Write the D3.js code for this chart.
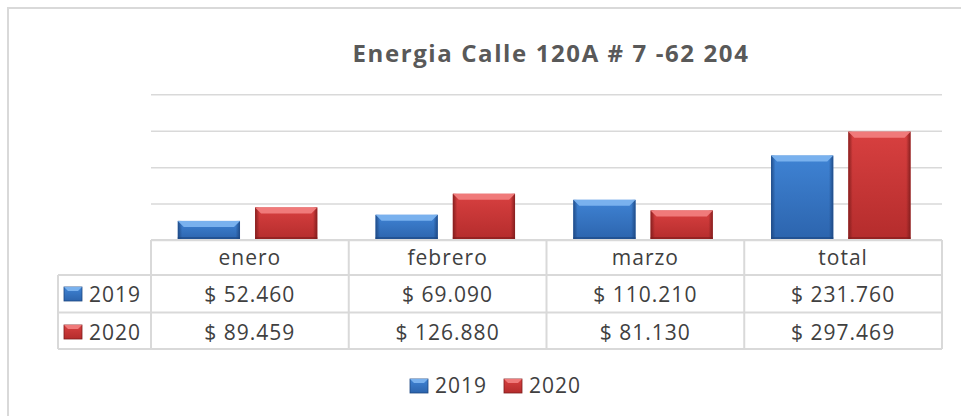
<!DOCTYPE html>
<html>
<head>
<meta charset="utf-8">
<script src="https://cdn.jsdelivr.net/npm/d3@7"></script>
<style>
  body { margin: 0; background: #fff; }
  text { font-family: "Open Sans", sans-serif; fill: #404040; }
</style>
</head>
<body>
<div id="chart-area"></div>
<script>
// data
const categories = ["enero", "febrero", "marzo", "total"]
const seriesNames = ["2019", "2020"]
const values2019 = [52460, 69090, 110210, 231760]
const values2020 = [89459, 126880, 81130, 297469]
const yTicks = [0, 100000, 200000, 300000, 400000]
const title = "Energia Calle 120A # 7 -62 204"

const W = 961, H = 416
const PLOT = { LEFT: 151, RIGHT: 942, TOP: 94.3, BOTTOM: 240 }
const ROWS = [240, 275, 312.5, 349]   // table row edges
const LABEL_LEFT = 58

const colors = {
  "2019": { top: "#79b1ee", body1: "#3f83d4", body2: "#2c64ad", edge: "#1d4680" },
  "2020": { top: "#f07a7a", body1: "#d84040", body2: "#b42c2c", edge: "#7e1c1c" }
}

const rows = seriesNames.map(function(s, i) {
  const vals = i === 0 ? values2019 : values2020
  return { name: s, values: categories.map(function(c, j) { return { cat: c, series: s, value: vals[j] } }) }
})

const locale = d3.formatLocale({ decimal: ",", thousands: ".", grouping: [3], currency: ["$ ", ""] })
const fmt = locale.format("$,.0f")

const svg = d3.select("#chart-area").append("svg")
  .attr("width", W)
  .attr("height", H)

// gradients
const defs = svg.append("defs")
seriesNames.forEach(function(s) {
  const c = colors[s]
  const gv = defs.append("linearGradient").attr("id", "body" + s)
    .attr("x1", 0).attr("y1", 0).attr("x2", 0).attr("y2", 1)
  gv.append("stop").attr("offset", "0%").attr("stop-color", c.body1)
  gv.append("stop").attr("offset", "100%").attr("stop-color", c.body2)
  const gh = defs.append("linearGradient").attr("id", "side" + s)
    .attr("x1", 0).attr("y1", 0).attr("x2", 1).attr("y2", 0)
  gh.append("stop").attr("offset", "0%").attr("stop-color", c.edge).attr("stop-opacity", 0.9)
  gh.append("stop").attr("offset", "7%").attr("stop-color", c.edge).attr("stop-opacity", 0)
  gh.append("stop").attr("offset", "93%").attr("stop-color", c.edge).attr("stop-opacity", 0)
  gh.append("stop").attr("offset", "100%").attr("stop-color", c.edge).attr("stop-opacity", 0.9)
})

// outer border
svg.append("rect")
  .attr("x", 8).attr("y", 8)
  .attr("width", W + 20).attr("height", H + 20)
  .attr("fill", "none")
  .attr("stroke", "#d9d9d9")
  .attr("stroke-width", 2)

// title
svg.append("text")
  .attr("x", 551)
  .attr("y", 62)
  .attr("text-anchor", "middle")
  .attr("font-size", "24px")
  .attr("font-weight", "bold")
  .attr("letter-spacing", "1.6px")
  .style("fill", "#595959")
  .text(title)

// scales
const x = d3.scaleBand()
  .domain(categories)
  .range([PLOT.LEFT, PLOT.RIGHT])
  .padding(0)

const xs = d3.scaleBand()
  .domain(seriesNames)
  .range([0, x.bandwidth()])
  .paddingInner(0.195)
  .paddingOuter(0.377)
  .align(0.46)

const y = d3.scaleLinear()
  .domain([0, 400000])
  .range([PLOT.BOTTOM, PLOT.TOP])

// gridlines
const grid = svg.append("g")
  .attr("transform", "translate(" + PLOT.LEFT + ",0)")
  .call(d3.axisLeft(y).tickValues(yTicks).tickSize(-(PLOT.RIGHT - PLOT.LEFT)).tickFormat(""))
grid.select(".domain").remove()
grid.selectAll("line").attr("stroke", "#d9d9d9").attr("stroke-width", 1.5)

// bars
const groups = svg.selectAll(".series")
  .data(rows)
  .enter().append("g")
  .attr("class", "series")

const bars = groups.selectAll(".bar")
  .data(function(d) { return d.values })
  .enter().append("g")
  .attr("class", "bar")

bars.append("rect")
  .attr("x", function(d) { return x(d.cat) + xs(d.series) })
  .attr("y", function(d) { return y(d.value) })
  .attr("width", xs.bandwidth())
  .attr("height", function(d) { return y(0) - y(d.value) })
  .attr("fill", function(d) { return "url(#body" + d.series + ")" })

bars.append("rect")
  .attr("x", function(d) { return x(d.cat) + xs(d.series) })
  .attr("y", function(d) { return y(d.value) })
  .attr("width", xs.bandwidth())
  .attr("height", function(d) { return y(0) - y(d.value) })
  .attr("fill", function(d) { return "url(#side" + d.series + ")" })

// top bevel
const bev = 6
bars.append("path")
  .attr("d", function(d) {
    const x0 = x(d.cat) + xs(d.series), x1 = x0 + xs.bandwidth(), y0 = y(d.value)
    return "M" + x0 + "," + y0 + "L" + x1 + "," + y0 + "L" + (x1 - bev) + "," + (y0 + bev) +
      "L" + (x0 + bev) + "," + (y0 + bev) + "Z"
  })
  .attr("fill", function(d) { return colors[d.series].top })

// bottom shade
bars.append("rect")
  .attr("x", function(d) { return x(d.cat) + xs(d.series) })
  .attr("y", y(0) - 3)
  .attr("width", xs.bandwidth())
  .attr("height", 3)
  .attr("fill", function(d) { return colors[d.series].edge })
  .attr("opacity", 0.6)

// data table
const table = svg.append("g").attr("class", "table")
const lineColor = "#d9d9d9"

// horizontal lines
ROWS.forEach(function(ry, i) {
  table.append("line")
    .attr("x1", i === 0 ? PLOT.LEFT : LABEL_LEFT)
    .attr("x2", PLOT.RIGHT)
    .attr("y1", ry).attr("y2", ry)
    .attr("stroke", lineColor).attr("stroke-width", 2)
})
// vertical lines
table.append("line")
  .attr("x1", LABEL_LEFT).attr("x2", LABEL_LEFT)
  .attr("y1", ROWS[1]).attr("y2", ROWS[3])
  .attr("stroke", lineColor).attr("stroke-width", 2)
categories.concat([null]).forEach(function(c) {
  const cx = c === null ? PLOT.RIGHT : x(c)
  table.append("line")
    .attr("x1", cx).attr("x2", cx)
    .attr("y1", ROWS[0]).attr("y2", ROWS[3])
    .attr("stroke", lineColor).attr("stroke-width", 2)
})

// header labels
table.selectAll(".cat-label")
  .data(categories)
  .enter().append("text")
  .attr("class", "cat-label")
  .attr("x", function(d) { return x(d) + x.bandwidth() / 2 })
  .attr("y", 265)
  .attr("text-anchor", "middle")
  .attr("font-size", "21px")
  .attr("letter-spacing", "1px")
  .text(function(d) { return d })

const valueBaselines = [302, 340]

function marker(sel, s, mx, my) {
  sel.append("rect")
    .attr("x", mx).attr("y", my).attr("width", 18).attr("height", 14)
    .attr("fill", "url(#body" + s + ")")
    .attr("stroke", colors[s].edge).attr("stroke-width", 0.8)
  sel.append("path")
    .attr("d", "M" + mx + "," + my + "L" + (mx + 18) + "," + my + "L" + (mx + 14) + "," + (my + 4) + "L" + (mx + 4) + "," + (my + 4) + "Z")
    .attr("fill", colors[s].top)
}

rows.forEach(function(r, i) {
  const g = table.append("g")
  marker(g, r.name, 64, valueBaselines[i] - 15)
  g.append("text")
    .attr("x", 89)
    .attr("y", valueBaselines[i])
    .attr("font-size", "21px")
    .attr("letter-spacing", "1px")
    .text(r.name)
  g.selectAll(".val")
    .data(r.values)
    .enter().append("text")
    .attr("class", "val")
    .attr("x", function(d) { return x(d.cat) + x.bandwidth() / 2 })
    .attr("y", valueBaselines[i])
    .attr("text-anchor", "middle")
    .attr("font-size", "21px")
    .attr("letter-spacing", "1px")
    .text(function(d) { return fmt(d.value) })
})

// legend
const legend = svg.append("g").attr("class", "legend")
const legendX = [410, 504]
seriesNames.forEach(function(s, i) {
  const lg = legend.append("g")
  marker(lg, s, legendX[i], 379)
  lg.append("text")
    .attr("x", legendX[i] + 25)
    .attr("y", 393)
    .attr("font-size", "21px")
    .attr("letter-spacing", "1px")
    .text(s)
})
</script>
</body>
</html>
